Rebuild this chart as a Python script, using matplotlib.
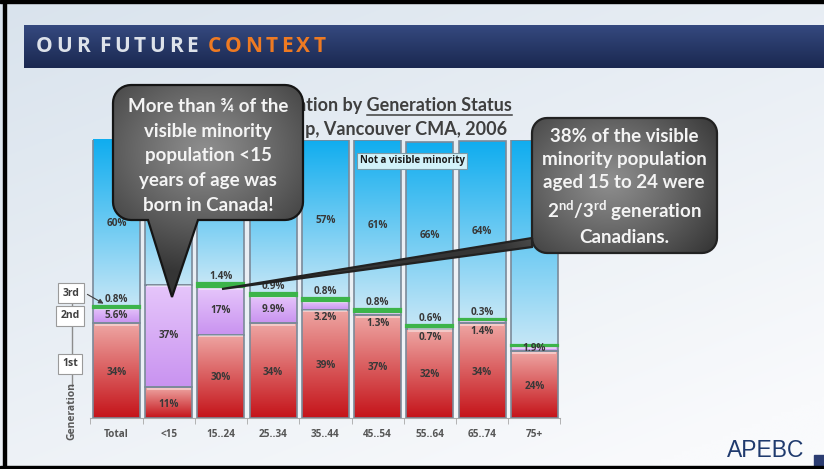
import numpy as np
import matplotlib
matplotlib.use('Agg')
import matplotlib.pyplot as plt
from matplotlib.patches import Rectangle, Polygon
from matplotlib.colors import to_rgb

plt.rcParams['mathtext.fontset'] = 'custom'
plt.rcParams['mathtext.rm'] = 'Lato'
plt.rcParams['mathtext.bf'] = 'Lato:bold'

# data (percent of population in each age group)
categories = ['Total', '<15', '15..24', '25..34', '35..44', '45..54', '55..64', '65..74', '75+']
first_gen = [34, 11, 30, 34, 39, 37, 32, 34, 24]
second_gen = [5.6, 37, 17, 9.9, 3.2, 1.3, 0.7, 1.4, 1.9]
third_gen = [0.8, 0, 1.4, 0.9, 0.8, 0.8, 0.6, 0.3, 0.2]
not_vm = [60, 52, 52, 55, 57, 61, 66, 64, 74]
show_third = [True, False, True, True, True, True, True, True, False]
show_notvm = [True, False, False, True, True, True, True, True, False]

callout1 = ['More than \u00be of the', 'visible minority', 'population <15',
            'years of age was', 'born in Canada!']
callout2 = ['38% of the visible', 'minority population', 'aged 15 to 24 were',
            r'$\mathbf{2^{nd}/3^{rd}}$ generation', 'Canadians.']

W, H = 824, 469
FONT = ['Lato', 'DejaVu Sans']
SMALL = ['Open Sans', 'DejaVu Sans']

fig = plt.figure(figsize=(W / 100, H / 100), dpi=100)
rend = fig.canvas.get_renderer()

def ramp(c_top, c_bot, n=64):
    a, b = np.array(to_rgb(c_top)), np.array(to_rgb(c_bot))
    t = np.linspace(0, 1, n)[:, None, None]
    return a + (b - a) * t

def grad_fill(ax, patch, c_top, c_bot, z=2):
    bb = patch.get_bbox()
    im = ax.imshow(ramp(c_top, c_bot), extent=(bb.x0, bb.x1, bb.y0, bb.y1),
                   origin='upper', aspect='auto', interpolation='bilinear', zorder=z)
    im.set_clip_path(patch)

# ---- background slide ----
bg = fig.add_axes([0, 0, 1, 1])
bg.axis('off')
yy, xx = np.mgrid[0:1:120j, 0:1:200j]
t = np.clip(0.65 * yy + 0.45 * xx, 0, 1)[..., None]
c0, c1 = np.array(to_rgb('#d9e3ed')), np.array(to_rgb('#f9fafc'))
bg.imshow(c0 + (c1 - c0) * t, extent=(0, W, H, 0), aspect='auto',
          interpolation='bilinear', zorder=0)

# frame lines
bg.add_patch(Rectangle((0, 0), W, 3, color='black', zorder=5))
bg.add_patch(Rectangle((3, 0), 3, H, color='black', zorder=5))
bg.add_patch(Rectangle((0, 466), W, 3, color='black', zorder=5))

# header bar
hdr = Rectangle((24, 25), W - 24, 43, facecolor='none', edgecolor='none', zorder=2)
bg.add_patch(hdr)
im = bg.imshow(ramp('#35497f', '#1a2850')[::-1], extent=(24, W, 68, 25), origin='lower',
               aspect='auto', interpolation='bilinear', zorder=2)
im.set_clip_path(hdr)
bg.set_xlim(0, W)
bg.set_ylim(H, 0)

def spaced(ax, x, y, s, color, spacing, size):
    for ch in s:
        if ch == ' ':
            x += size * 0.42
            continue
        tx = ax.text(x, y, ch, color=color, ha='left', va='center', fontsize=size,
                     fontweight='bold', family=['Open Sans', 'DejaVu Sans'], zorder=3)
        x += tx.get_window_extent(rend).width + spacing
    return x

xe = spaced(bg, 36, 47, 'OUR FUTURE ', '#dde2ea', 3.6, 15)
spaced(bg, xe, 47, 'CONTEXT', '#ee7a22', 3.6, 15)

# chart title (partly hidden behind the callouts, as on the slide)
bg.text(512, 106, 'Visible Minority Population by Generation Status', ha='right',
        va='center', fontsize=13, fontweight='bold', color='#3f3f3f', family=FONT, zorder=3)
bg.text(507, 130, 'and Age Group, Vancouver CMA, 2006', ha='right', va='center',
        fontsize=13, fontweight='bold', color='#3f3f3f', family=FONT, zorder=3)
probe = bg.text(0, -50, 'Generation Status', fontsize=13, fontweight='bold', family=FONT)
uw = probe.get_window_extent(rend).width
probe.remove()
bg.plot([512 - uw, 512], [115, 115], color='#3f3f3f', lw=1.1, zorder=3)

# APEBC logo text
bg.text(766, 457, 'APEBC', ha='center', va='baseline', fontsize=16.5,
        family='Liberation Sans', color='#1f3a6e', zorder=3)
bg.add_patch(Rectangle((814, 455), 10, 11, color='#2c3d72', zorder=4))

# ---- stacked bar chart ----
ax = fig.add_axes([90.4 / W, (H - 418) / H, 470 / W, 278 / H])
ax.set_facecolor('none')
x = np.arange(len(categories))
wd = 0.9
edge = '#7b8a99'

b1 = np.array(first_gen)
b2 = b1 + np.array(second_gen)
b3 = b2 + np.array(third_gen)

bars1 = ax.bar(x, first_gen, wd, facecolor='none', edgecolor=edge, lw=1.2, zorder=3)
bars2 = ax.bar(x, second_gen, wd, bottom=b1, facecolor='none', edgecolor=edge, lw=1.2, zorder=3)
ax.bar(x, third_gen, wd, bottom=b2, color='#3cb44a', edgecolor='#3cb44a',
       linewidth=[1.6 if v > 0 else 0 for v in third_gen], zorder=4)
bars4 = ax.bar(x, not_vm, wd, bottom=b3, facecolor='none', edgecolor=edge, lw=1.2, zorder=3)
for p in bars1:
    grad_fill(ax, p, '#eea6a3', '#c5141a')
for p in bars2:
    grad_fill(ax, p, '#e6c6fb', '#c993f0')
for p in bars4:
    grad_fill(ax, p, '#10adef', '#c4e6f6')

# glossy highlight along the top of the red and purple blocks
for tops in (b1, b2):
    for i in x:
        ax.plot([i - 0.42, i + 0.42], [tops[i] - 0.55] * 2, color='white', alpha=0.55,
                lw=1.1, zorder=3.5, solid_capstyle='butt')

lab = dict(ha='center', va='center', fontsize=7.2, fontweight='bold', color='#383838',
           family=SMALL, zorder=6)
for i in x:
    ax.text(i, first_gen[i] / 2 - 0.5, f'{first_gen[i]:g}%', **lab)
    if second_gen[i] >= 5 or not show_third[i]:
        y2 = b1[i] + second_gen[i] / 2
    else:
        y2 = b1[i] - 2.9
    ax.text(i, y2, f'{second_gen[i]:g}%', **lab)
    if show_third[i]:
        ax.text(i, b3[i] + 2.4, f'{third_gen[i]:g}%', **lab)
    if show_notvm[i]:
        ax.text(i, (b3[i] + b3[i] + not_vm[i]) / 2 - 0.5, f'{not_vm[i]:g}%', **lab)

ax.set_xlim(-0.5, 8.5)
ax.set_ylim(0, 100)
for s in ['left', 'right', 'top']:
    ax.spines[s].set_visible(False)
ax.spines['bottom'].set_color('#a8a8a8')
ax.set_yticks([])
ax.set_xticks(x, categories)
ax.set_xticks(np.arange(-0.5, 9), minor=True)
ax.tick_params(axis='x', which='major', length=0, pad=8, labelsize=7.2, labelcolor='#555555')
ax.tick_params(axis='x', which='minor', length=4, color='#a8a8a8')
for tl in ax.get_xticklabels():
    tl.set_fontweight('bold')
    tl.set_family(SMALL)

# ---- overlay: legend tags, callouts ----
ov = fig.add_axes([0, 0, 1, 1])
ov.set_facecolor('none')
ov.axis('off')
ov.set_zorder(5)

ov.plot([72, 72], [300, 386], color='#8c8c8c', lw=1, zorder=1)
tag = dict(ha='center', va='center', fontsize=7.5, fontweight='bold', color='#404040',
           family=SMALL, zorder=3,
           bbox=dict(boxstyle='square,pad=0.4', fc='white', ec='#9a9a9a', lw=0.8))
ov.text(71, 293, '3rd', **tag)
ov.text(70, 316, '2nd', **tag)
ov.text(70, 364, '1st', **tag)
ov.text(72, 411, 'Generation', rotation=90, ha='center', va='center', fontsize=7.5,
        fontweight='bold', color='#595959', family=SMALL)
ov.annotate('', xy=(106, 305), xytext=(85, 293),
            arrowprops=dict(arrowstyle='-|>', color='#404040', lw=0.8, mutation_scale=7))
ov.text(412, 161, 'Not a visible minority', ha='center', va='center', fontsize=7,
        fontweight='bold', color='#1a1a1a', family=SMALL, zorder=3,
        bbox=dict(boxstyle='square,pad=0.3', fc='#d2f2fa', ec='#7f9aa6', lw=0.8))

def callout_pts(x0, y0, x1, y1, r, bottom_ptr=None, left_ptr=None):
    pts = []
    def arc(cx, cy, a0, a1):
        for a in np.linspace(a0, a1, 10):
            pts.append((cx + r * np.cos(a), cy + r * np.sin(a)))
    arc(x0 + r, y0 + r, np.pi, 1.5 * np.pi)
    arc(x1 - r, y0 + r, 1.5 * np.pi, 2 * np.pi)
    arc(x1 - r, y1 - r, 0, 0.5 * np.pi)
    if bottom_ptr:
        bx_r, bx_l, tip = bottom_ptr
        pts += [(bx_r, y1), tip, (bx_l, y1)]
    arc(x0 + r, y1 - r, 0.5 * np.pi, np.pi)
    if left_ptr:
        yb, ya, tip = left_ptr
        pts += [(x0, yb), tip, (x0, ya)]
    return pts

def callout(pts, extent, center, radius, ec):
    poly = Polygon(pts, closed=True, fc='none', ec=ec, lw=1.6, zorder=3)
    ov.add_patch(poly)
    ex0, ex1, ey0, ey1 = extent
    gy, gx = np.mgrid[ey0:ey1:200j, ex0:ex1:300j]
    d = np.clip(np.hypot(gx - center[0], (gy - center[1]) * 1.2) / radius, 0, 1)[..., None]
    a, b = np.array(to_rgb('#8e8e8e')), np.array(to_rgb('#353535'))
    im = ov.imshow(a + (b - a) * d ** 1.1, extent=(ex0, ex1, ey1, ey0), origin='upper',
                   aspect='auto', interpolation='bilinear', zorder=2)
    im.set_clip_path(poly)

callout(callout_pts(113, 85, 303, 220, 18, bottom_ptr=(198, 148, (172, 297))),
        (113, 303, 85, 297), (205, 150), 150, '#151515')
callout(callout_pts(532, 118, 717, 253, 15, left_ptr=(247, 238, (222, 289))),
        (222, 717, 118, 289), (610, 180), 135, '#222222')

txt = dict(ha='center', va='center', fontsize=13.5, fontweight='bold', color='#f4f4f4',
           family=FONT, zorder=4, multialignment='center')
ov.text(208, 156, '\n'.join(callout1), linespacing=1.55, **txt)
ov.text(624, 187, '\n'.join(callout2), linespacing=1.42, **txt)

ov.set_xlim(0, W)
ov.set_ylim(H, 0)

fig.savefig('out.png', dpi=100)
